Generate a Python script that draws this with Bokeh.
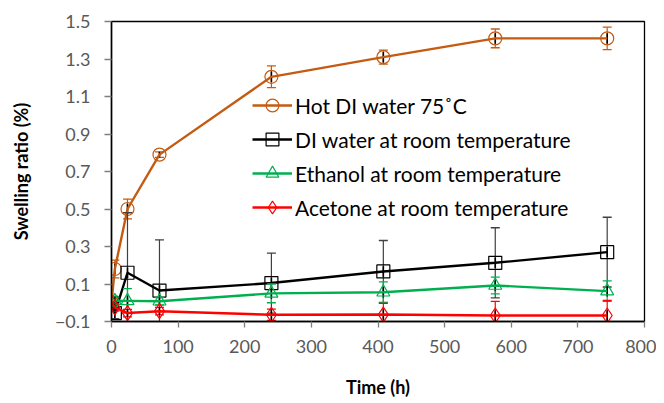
import numpy as np
from bokeh.plotting import figure
from bokeh.models import FixedTicker, Legend, LegendItem, Range1d
from bokeh.embed import file_html
from bokeh.resources import INLINE

# ---- data ----
time_h = [0, 5, 24, 72, 240, 408, 576, 744]
hot_di = [0.0, 0.18, 0.50, 0.79, 1.205, 1.31, 1.41, 1.41]
hot_di_err = [0.0, 0.047, 0.053, 0.015, 0.058, 0.037, 0.05, 0.06]
di_room = [0.0, -0.055, 0.16, 0.065, 0.105, 0.167, 0.213, 0.27]
di_room_err = [0.0, 0.03, 0.32, 0.27, 0.16, 0.165, 0.187, 0.186]
ethanol = [0.0, 0.01, 0.01, 0.008, 0.05, 0.056, 0.092, 0.062]
ethanol_err = [0.0, 0.02, 0.065, 0.02, 0.05, 0.055, 0.045, 0.055]
acetone = [0.0, -0.025, -0.055, -0.045, -0.064, -0.063, -0.068, -0.068]
acetone_err = [0.0, 0.02, 0.02, 0.02, 0.03, 0.06, 0.075, 0.08]

labels = ["Hot DI water 75\u02daC", "DI water at room temperature",
          "Ethanol at room temperature", "Acetone at room temperature"]
y_ticks = [-0.1, 0.1, 0.3, 0.5, 0.7, 0.9, 1.1, 1.3, 1.5]
x_ticks = [0, 100, 200, 300, 400, 500, 600, 700, 800]
x_title = "Time (h)"
y_title = "Swelling ratio (%)"

FONT = "Lato"

p = figure(width=656, height=400, output_backend="svg", toolbar_location=None,
           x_range=Range1d(0, 800), y_range=Range1d(-0.1, 1.5),
           min_border_left=111, min_border_right=12, min_border_top=21,
           min_border_bottom=79)
p.xgrid.visible = False
p.ygrid.visible = False
p.outline_line_color = "black"
p.outline_line_width = 1.3
p.background_fill_color = "white"
p.border_fill_color = "white"

for ax in (p.xaxis[0], p.yaxis[0]):
    ax.axis_line_color = "black"
    ax.axis_line_width = 1.5
    ax.major_tick_line_color = "#7f7f7f"
    ax.major_tick_line_width = 1.3
    ax.minor_tick_line_color = None
    ax.major_tick_in = 0
    ax.major_label_text_font = FONT
    ax.major_label_text_font_size = "18px"
    ax.major_label_text_color = "#595959"
    ax.axis_label_text_font = FONT
    ax.axis_label_text_font_style = "bold"
    ax.axis_label_text_font_size = "18px"
    ax.axis_label_text_color = "black"

p.xaxis.ticker = FixedTicker(ticks=x_ticks)
p.yaxis.ticker = FixedTicker(ticks=y_ticks)
p.yaxis.formatter.use_scientific = False
p.xaxis.major_tick_out = 6
p.yaxis.major_tick_out = 7
p.xaxis.major_label_standoff = 12
p.yaxis.major_label_standoff = 14
p.xaxis.axis_label = x_title
p.yaxis.axis_label = y_title
p.xaxis.axis_label_standoff = 20
p.yaxis.axis_label_standoff = 20

series = [
    (hot_di, hot_di_err, "#C55A11", "#C55A11", "circle", 13),
    (di_room, di_room_err, "black", "#404040", "square", 13),
    (ethanol, ethanol_err, "#00B050", "#00B050", "triangle", 13),
    (acetone, acetone_err, "#FF0000", "#FF0000", "diamond", 15),
]

t = np.array(time_h, dtype=float)
items = []
for (vals, errs, col, ecol, mk, sz), lab in zip(series, labels):
    v = np.array(vals)
    e = np.array(errs)
    up = v + e
    lo = v - e
    mask = e > 0
    p.segment(t[mask], lo[mask], t[mask], up[mask], line_color=ecol, line_width=1.2)
    p.dash(t[mask], up[mask], size=9, line_color=ecol, line_width=1.3)
    p.dash(t[mask], lo[mask], size=9, line_color=ecol, line_width=1.3)
    p.segment(t, v - np.minimum(e, 0.028), t, v + np.minimum(e, 0.028),
              line_color="black", line_width=1.6)
    r1 = p.line(t, v, line_color=col, line_width=2.4)
    r2 = p.scatter(t, v, marker=mk, size=sz, line_color=col, line_width=1.2,
                   fill_alpha=0)
    items.append(LegendItem(label=lab, renderers=[r1, r2]))

legend = Legend(items=items, location=(141, 98), padding=0, margin=0,
                spacing=2, glyph_width=40, glyph_height=32, label_height=32,
                label_standoff=3, border_line_alpha=0, background_fill_alpha=0,
                label_text_font=FONT, label_text_font_size="21px",
                label_text_color="black")
p.add_layout(legend, "center")

open("out.html", "w").write(file_html(p, INLINE))
